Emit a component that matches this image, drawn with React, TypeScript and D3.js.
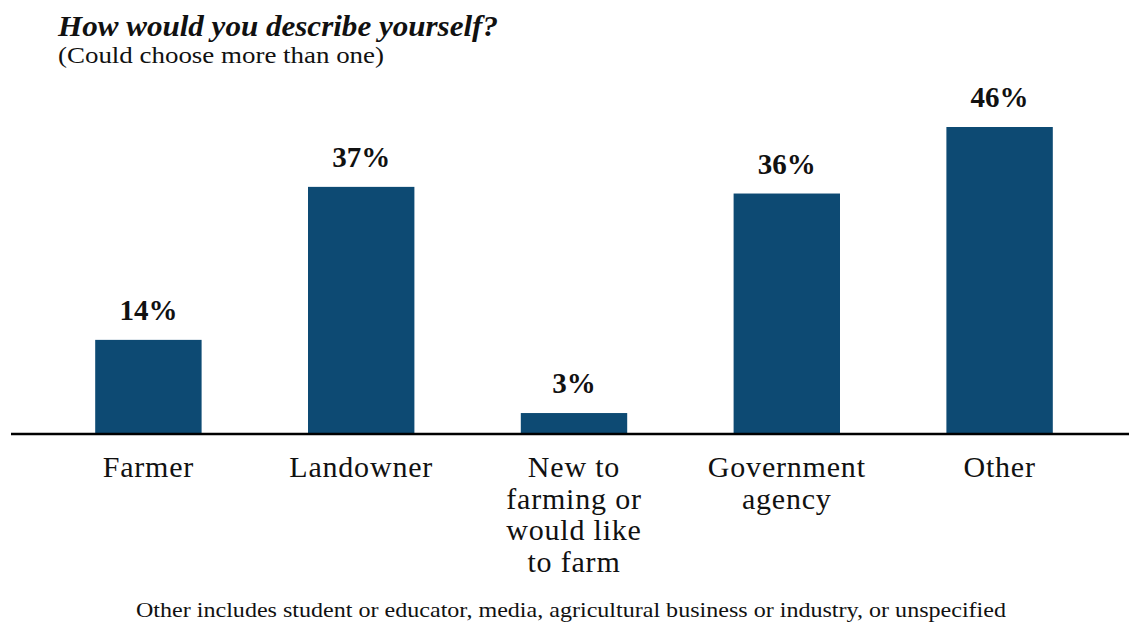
import React from "react";
import * as d3 from "d3";

const categories: string[][] = [
  ["Farmer"],
  ["Landowner"],
  ["New to", "farming or", "would like", "to farm"],
  ["Government", "agency"],
  ["Other"],
];
const values: number[] = [14, 37, 3, 36, 46];
const title = "How would you describe yourself?";
const subtitle = "(Could choose more than one)";
const footnote = "Other includes student or educator, media, agricultural business or industry, or unspecified";

const W = 1129;
const H = 622;
const FONT = "'Liberation Serif', 'DejaVu Serif', serif";
const BAR = "#0d4a73";

export default function App() {
  const idx = values.map((_, i) => String(i));
  const x = d3.scaleBand<string>().domain(idx).range([42, 1106]).paddingInner(0.5).paddingOuter(0.25);
  const y = d3.scaleLinear().domain([0, 46]).range([433, 127]);
  return (
    <svg width={W} height={H} style={{ position: "absolute", left: 0, top: 0, background: "#fff" }} fontFamily={FONT}>
      <text x={58} y={36} fontSize={29} fontWeight="bold" fontStyle="italic" fill="#111" textLength={440} lengthAdjust="spacingAndGlyphs">{title}</text>
      <text x={58} y={63} fontSize={24} fill="#111" textLength={326} lengthAdjust="spacingAndGlyphs">{subtitle}</text>
      {values.map((v, i) => {
        const bx = x(String(i))!;
        const bw = x.bandwidth();
        return (
          <g key={i}>
            <rect x={bx} y={y(v)} width={bw} height={y(0) - y(v)} fill={BAR} />
            <text x={bx + bw / 2} y={y(v) - 20} textAnchor="middle" fontSize={29} fontWeight="bold" fill="#111">{v}%</text>
            {categories[i].map((line, j) => (
              <text key={j} x={bx + bw / 2} y={477 + j * 31.5} textAnchor="middle" fontSize={30} letterSpacing={0.8} fill="#111">{line}</text>
            ))}
          </g>
        );
      })}
      <line x1={11} x2={W} y1={y(0) + 1} y2={y(0) + 1} stroke="#000" strokeWidth={2.5} />
      <text x={571} y={617} textAnchor="middle" fontSize={21} fill="#111" textLength={870} lengthAdjust="spacingAndGlyphs">{footnote}</text>
    </svg>
  );
}
